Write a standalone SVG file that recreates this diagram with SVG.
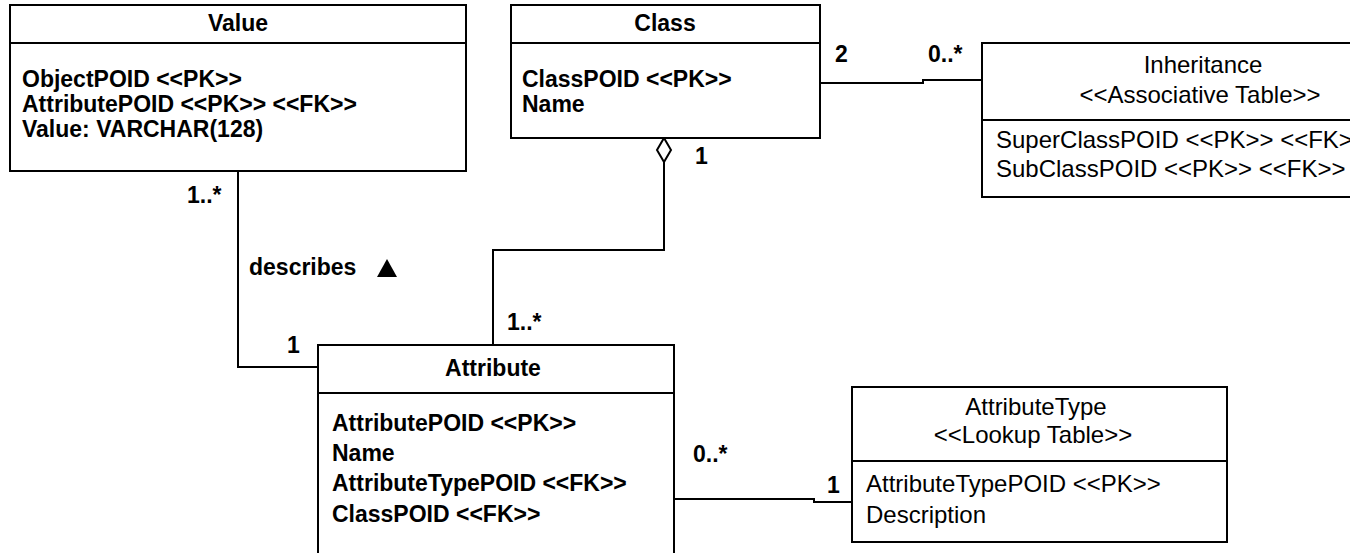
<svg xmlns="http://www.w3.org/2000/svg" width="1350" height="553" viewBox="0 0 1350 553">
<style>
.box{fill:#fff;stroke:#000;stroke-width:2}
.sep{stroke:#000;stroke-width:2}
.b{font-family:"Liberation Sans",Arial,sans-serif;font-weight:bold;font-size:23px;fill:#000}
.r{font-family:"Liberation Sans",Arial,sans-serif;font-size:24px;fill:#000}
.c{text-anchor:middle}
.ln{fill:none;stroke:#000;stroke-width:2}
</style>
<rect width="1350" height="553" fill="#fff"/>
<g id="connectors">
<path class="ln" d="M238 171 V367 H318"/>
<path class="ln" d="M664 162 V250 H493 V345"/>
<polygon points="664,138 671,150 664,162 657,150" fill="#fff" stroke="#000" stroke-width="2"/>
<path class="ln" d="M820 83 H923 V80 H982"/>
<path class="ln" d="M674 499 H814 V502 H852"/>
<text class="b" x="187" y="203">1..*</text>
<text class="b" x="249" y="275">describes</text>
<polygon points="377,277 397,277 387,259" fill="#000"/>
<text class="b" x="287" y="353">1</text>
<text class="b" x="507" y="330">1..*</text>
<text class="b" x="695" y="164">1</text>
<text class="b" x="835" y="62">2</text>
<text class="b" x="928" y="62">0..*</text>
<text class="b" x="693" y="462">0..*</text>
<text class="b" x="827" y="493">1</text>
</g>
<g id="value">
<rect class="box" x="10" y="5" width="456" height="166"/>
<line class="sep" x1="10" y1="43" x2="466" y2="43"/>
<text class="b c" x="238" y="31">Value</text>
<text class="b" x="22" y="87">ObjectPOID &lt;&lt;PK&gt;&gt;</text>
<text class="b" x="22" y="112">AttributePOID &lt;&lt;PK&gt;&gt; &lt;&lt;FK&gt;&gt;</text>
<text class="b" x="22" y="137">Value: VARCHAR(128)</text>
</g>
<g id="class">
<rect class="box" x="511" y="5" width="309" height="133"/>
<line class="sep" x1="511" y1="43" x2="820" y2="43"/>
<text class="b c" x="665" y="31">Class</text>
<text class="b" x="522" y="87">ClassPOID &lt;&lt;PK&gt;&gt;</text>
<text class="b" x="522" y="112">Name</text>
</g>
<g id="inheritance">
<rect class="box" x="982" y="43" width="450" height="154"/>
<line class="sep" x1="982" y1="120" x2="1432" y2="120"/>
<text class="r c" x="1203" y="73">Inheritance</text>
<text class="r c" x="1200" y="103">&lt;&lt;Associative Table&gt;&gt;</text>
<text class="r" x="996" y="148">SuperClassPOID &lt;&lt;PK&gt;&gt; &lt;&lt;FK&gt;&gt;</text>
<text class="r" x="996" y="177">SubClassPOID &lt;&lt;PK&gt;&gt; &lt;&lt;FK&gt;&gt;</text>
</g>
<g id="attribute">
<rect class="box" x="318" y="345" width="356" height="220"/>
<line class="sep" x1="318" y1="393" x2="674" y2="393"/>
<text class="b c" x="493" y="376">Attribute</text>
<text class="b" x="332" y="431">AttributePOID &lt;&lt;PK&gt;&gt;</text>
<text class="b" x="332" y="461">Name</text>
<text class="b" x="332" y="491">AttributeTypePOID &lt;&lt;FK&gt;&gt;</text>
<text class="b" x="332" y="522">ClassPOID &lt;&lt;FK&gt;&gt;</text>
</g>
<g id="attributetype">
<rect class="box" x="852" y="387" width="375" height="155"/>
<line class="sep" x1="852" y1="461" x2="1227" y2="461"/>
<text class="r c" x="1036" y="415">AttributeType</text>
<text class="r c" x="1033" y="443">&lt;&lt;Lookup Table&gt;&gt;</text>
<text class="r" x="866" y="492">AttributeTypePOID &lt;&lt;PK&gt;&gt;</text>
<text class="r" x="866" y="523">Description</text>
</g>
</svg>
